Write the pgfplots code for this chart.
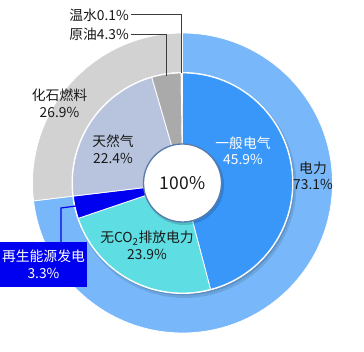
\documentclass[border=0pt]{standalone}
\usepackage{pgfplots}
\pgfplotsset{compat=1.18}
\usepackage{pgfplotstable}
\usepackage{fontspec}
\setmainfont{Noto Sans CJK SC}

\definecolor{cPower}{RGB}{120,184,250}
\definecolor{cFossil}{RGB}{210,210,210}
\definecolor{cGen}{RGB}{57,151,250}
\definecolor{cNoCO}{RGB}{94,222,226}
\definecolor{cRenew}{RGB}{0,0,240}
\definecolor{cGas}{RGB}{184,196,222}
\definecolor{cOil}{RGB}{170,170,170}
\definecolor{cHot}{RGB}{90,90,90}
\definecolor{cRing}{RGB}{88,122,172}
\definecolor{cTxt}{RGB}{25,25,25}
\definecolor{cLead}{RGB}{60,60,60}

\pgfplotstableread[col sep=comma]{
name,value,color
电力,73.1,cPower
化石燃料,26.9,cFossil
}\outerdata

\pgfplotstableread[col sep=comma]{
name,value,color
一般电气,45.9,cGen
无CO2排放电力,23.9,cNoCO
再生能源发电,3.3,cRenew
天然气,22.4,cGas
原油,4.3,cOil
温水,0.1,cHot
}\innerdata

% #1 table, #2 radius (pt), #3 start angle
\newcommand{\drawpie}[3]{%
  \pgfplotstablegetrowsof{#1}\let\nrows\pgfplotsretval
  \pgfmathtruncatemacro\lastrow{\nrows-1}%
  \def\angA{#3}%
  \pgfplotsforeachungrouped \i in {0,...,\lastrow}{%
    \pgfplotstablegetelem{\i}{value}\of{#1}\let\val\pgfplotsretval
    \pgfplotstablegetelem{\i}{color}\of{#1}\let\col\pgfplotsretval
    \pgfmathsetmacro\angB{\angA-3.6*\val}%
    \edef\cmd{\noexpand\fill[\col,draw=white,line width=0.8pt,line join=round]
      (axis cs:0,0) -- ++(\angA:#2pt) arc[start angle=\angA,end angle=\angB,radius=#2pt] -- cycle;}%
    \cmd
    \let\angA\angB
  }%
}

\newcommand{\lbl}{\fontsize{13.8}{16.5}\selectfont}

\begin{document}
\begin{tikzpicture}
\begin{axis}[
  x=1pt, y=1pt,
  xmin=-182.5, xmax=181.5, ymin=-169, ymax=183,
  hide axis, clip=false,
]
\path (axis cs:-182.5,-169) rectangle (axis cs:181.5,183);
% outer ring
\drawpie{\outerdata}{150}{90}
% inner pie shadow
\fill[black,opacity=0.10] (axis cs:2,-3) circle[radius=112pt];
\fill[black,opacity=0.12] (axis cs:1.5,-2) circle[radius=110.5pt];
\fill[white] (axis cs:0,0) circle[radius=111pt];
% inner pie
\drawpie{\innerdata}{110}{90}
% centre
\fill[black,opacity=0.15] (axis cs:1.5,-2) circle[radius=40pt];
\filldraw[fill=white,draw=cRing,line width=1.3pt] (axis cs:0,0) circle[radius=39pt];
\node[font=\fontsize{17.5}{20}\selectfont,text=cTxt] at (axis cs:0,0) {100\%};

% labels
\node[font=\lbl,align=center,text=white] at (axis cs:60.5,32) {一般电气\\45.9\%};
\node[font=\lbl,align=center,text=cTxt] at (axis cs:130.5,7) {电力\\73.1\%};
\node[font=\lbl,align=center,text=cTxt] at (axis cs:-69.5,34) {天然气\\22.4\%};
\node[font=\lbl,align=center,text=cTxt] at (axis cs:-123,79.5) {化石燃料\\26.9\%};
\node[font=\lbl,align=center,text=cTxt] at (axis cs:-35.5,-62.5) {无CO\textsubscript{2}排放电力\\23.9\%};
\node[font=\lbl,align=center,text=white,fill=cRenew,minimum width=87pt,minimum height=45pt,inner sep=0pt] at (axis cs:-139,-81.5) {再生能源发电\\3.3\%};

% leaders
\draw[cRenew,line width=1.2pt] (axis cs:-121.5,-59) -- (axis cs:-121.5,-25) -- (axis cs:-106.5,-23);
\draw[cLead,line width=1pt] (axis cs:-51.5,168) -- (axis cs:-0.8,168) -- (axis cs:-0.8,110);
\draw[cLead,line width=1pt] (axis cs:-51.5,148.7) -- (axis cs:-15.8,148.7) -- (axis cs:-15.8,107);
\node[font=\lbl,anchor=east,text=cTxt,inner sep=0pt] at (axis cs:-53.5,168) {温水0.1\%};
\node[font=\lbl,anchor=east,text=cTxt,inner sep=0pt] at (axis cs:-53.5,148.7) {原油4.3\%};
\end{axis}
\end{tikzpicture}
\end{document}
